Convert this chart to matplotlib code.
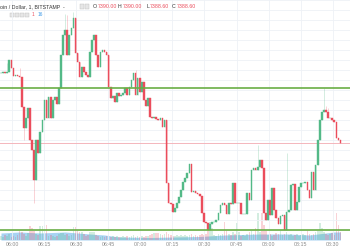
import matplotlib
matplotlib.use("Agg")
import matplotlib.pyplot as plt
from matplotlib.ticker import MultipleLocator
import numpy as np

plt.rcParams["font.family"] = ["Liberation Sans", "DejaVu Sans"]

# BTC/USD 1-minute closes (Bitstamp); open of each candle = previous close
first_open = 7423.5
closes = [
    7423.5, 7424, 7423.5, 7424, 7430, 7426, 7422, 7422.5, 7422, 7421.5,
    7406.5, 7396, 7401, 7406, 7390, 7385, 7370, 7390, 7383.5, 7394,
    7400, 7410, 7401, 7411.5, 7401, 7410, 7411.5, 7408, 7416, 7432.5,
    7442.5, 7445, 7432.5, 7442.5, 7446, 7451, 7433.5, 7429, 7421.5, 7426.5,
    7424, 7422.5, 7421.5, 7434, 7440, 7442.5, 7432.5, 7426.5, 7434, 7435,
    7434, 7432.5, 7416.5, 7411, 7412, 7409, 7413.5, 7412, 7412.5, 7413.5,
    7416, 7412.5, 7416.5, 7420, 7423.5, 7412.5, 7421, 7414, 7419, 7410,
    7407, 7411, 7401.5, 7401, 7401.5, 7400.5, 7400, 7401, 7396.5, 7400,
    7368.5, 7358.5, 7358, 7354, 7356, 7358.5, 7361.5, 7365, 7369, 7371,
    7373.5, 7378, 7364, 7364.5, 7363.5, 7363, 7362, 7353.5, 7349, 7348.5,
    7345, 7348, 7349, 7349, 7350, 7353.5, 7357.5, 7358.5, 7357.5, 7353,
    7358.5, 7358, 7368.5, 7358.5, 7358.5, 7358.5, 7353, 7353, 7353, 7363.5,
    7360, 7375, 7376, 7375, 7376.5, 7380, 7376, 7353.5, 7350, 7360,
    7352.5, 7366, 7355, 7351, 7348, 7352, 7352.5, 7345, 7354, 7355,
    7367.5, 7368, 7355, 7359, 7366.5, 7368.5, 7368.5, 7369, 7365, 7361,
    7374, 7365, 7377.5, 7390, 7400, 7404, 7405, 7404, 7401, 7401,
    7400, 7399, 7391, 7390, 7388.6,
]
# wicks that reach beyond the candle body
wick_highs = {3: 7428.5, 9: 7426, 31: 7453, 32: 7452.5, 35: 7454, 65: 7425,
              124: 7387.5, 138: 7383.5, 156: 7416, 157: 7407, 158: 7406}
wick_lows = {11: 7390, 16: 7358.5}

volumes = [
    4, 3, 5, 4, 6, 3, 4, 3, 5, 9,
    8, 6, 4, 7, 14, 12, 10, 6, 5, 14,
    14, 15, 15, 4, 5, 4, 3, 4, 6, 7,
    7, 5, 6, 4, 5, 13, 13, 10, 8, 8,
    6, 4, 5, 8, 8, 8, 5, 4, 3, 4,
    3, 4, 5, 3, 4, 3, 4, 3, 3, 4,
    3, 4, 3, 4, 5, 3, 4, 3, 4, 3,
    4, 4, 5, 6, 7, 7, 7, 6, 5, 6,
    8, 6, 5, 4, 4, 5, 4, 5, 4, 5,
    4, 5, 6, 4, 5, 4, 5, 6, 5, 6,
    10, 18, 12, 5, 4, 6, 5, 6, 18, 10,
    6, 5, 8, 6, 17, 8, 4, 5, 4, 6,
    8, 10, 6, 12, 27, 8, 27, 15, 10, 5,
    6, 4, 5, 7, 6, 10, 5, 6, 8, 5,
    6, 4, 5, 6, 4, 5, 6, 5, 10, 6,
    5, 6, 8, 10, 17, 12, 8, 6, 5, 6,
    7, 5, 27, 15, 8,
]
# volume moving average (drawn as a light area)
vol_ma_idx = [0, 9, 19, 31, 43, 50, 57, 72, 84, 96, 108, 125, 139, 149, 161, 164]
vol_ma = [7, 8, 7, 8, 6, 5, 3, 2.5, 3, 3.5, 5, 6, 6, 5, 8, 8]

resistance = 7416
support = 7345
last_price = 7388.6

tick_labels = ["06:00", "06:15", "06:30", "06:45", "07:00", "07:15",
               "07:30", "07:45", "08:00", "08:15", "08:30"]
first_tick = 5.3
tick_step = 15.5

GREEN = "#53b987"
RED = "#eb4d5c"

closes = np.array(closes)
opens = np.concatenate([[first_open], closes[:-1]])
x = np.arange(len(closes))
up = closes >= opens
colors = np.where(up, GREEN, RED)
highs = np.maximum(opens, closes)
lows = np.minimum(opens, closes)
for k, v in wick_highs.items():
    highs[k] = v
for k, v in wick_lows.items():
    lows[k] = v

fig = plt.figure(figsize=(3.5, 2.5), dpi=100)
ax = fig.add_axes([0, 0.04, 1, 0.96])
axv = ax.twinx()
ax.set_zorder(axv.get_zorder() + 1)
ax.patch.set_visible(False)
fig.patch.set_facecolor("white")

# volume pane
axv.fill_between(vol_ma_idx, 0, vol_ma, color="#a8d3f3", lw=0, zorder=1)
axv.bar(x, volumes, width=0.8, color=colors, alpha=0.25, lw=0, zorder=2)
axv.set_ylim(0, 240)
axv.axis("off")

# candles
ax.vlines(x, lows, highs, colors=colors, lw=0.5, alpha=0.35, zorder=2)
ax.bar(x, closes - opens, bottom=opens, width=0.8, color=colors,
       edgecolor=colors, lw=0.3, zorder=3)

ax.axhline(resistance, color="#6aae45", lw=1.2, zorder=4)
ax.axhline(support, color="#6aae45", lw=1.2, zorder=4)
ax.axhline(last_price, color="#f4b6bc", lw=0.7, zorder=1)

ax.set_xlim(-0.48, 168.6)
ax.set_ylim(7340, 7460)
ticks = first_tick + tick_step * np.arange(len(tick_labels))
ax.set_xticks(ticks, tick_labels)
ax.yaxis.set_major_locator(MultipleLocator(5))
ax.tick_params(axis="x", labelsize=3.8, length=0, pad=1.2, colors="#8a8a8a")
ax.tick_params(axis="y", left=False, labelleft=False)
ax.grid(True, color="#eef1f6", lw=0.6, zorder=0)
ax.set_axisbelow(True)
for s in ax.spines.values():
    s.set_visible(False)


def ftext(px, py, s, color="#333333", size=3.8):
    fig.text(px / 350, 1 - py / 250, s, color=color, fontsize=size,
             ha="left", va="center")


ftext(0, 6.5, "oin / Dollar, 1, BITSTAMP  -")
ftext(93, 6.5, "O")
ftext(97.5, 6.5, "7390.00", RED)
ftext(118, 6.5, "H")
ftext(122.5, 6.5, "7390.00", RED)
ftext(146.5, 6.5, "L")
ftext(150, 6.5, "7388.60", RED)
ftext(172, 6.5, "C")
ftext(176.5, 6.5, "7388.60", RED)
ftext(32, 15, "1", RED, 3.4)
ftext(38, 15, "16", "#3d9ae8", 3.4)
for bx in [80, 85, 10, 15, 20, 25]:
    by = 6.5 if bx >= 80 else 15
    fig.add_artist(plt.Rectangle((bx / 350, 1 - (by + 2) / 250), 3.5 / 350, 4 / 250,
                                 transform=fig.transFigure, fc="#e6e6e6",
                                 ec="#bdbdbd", lw=0.3))

fig.savefig("out.png", dpi=100)
